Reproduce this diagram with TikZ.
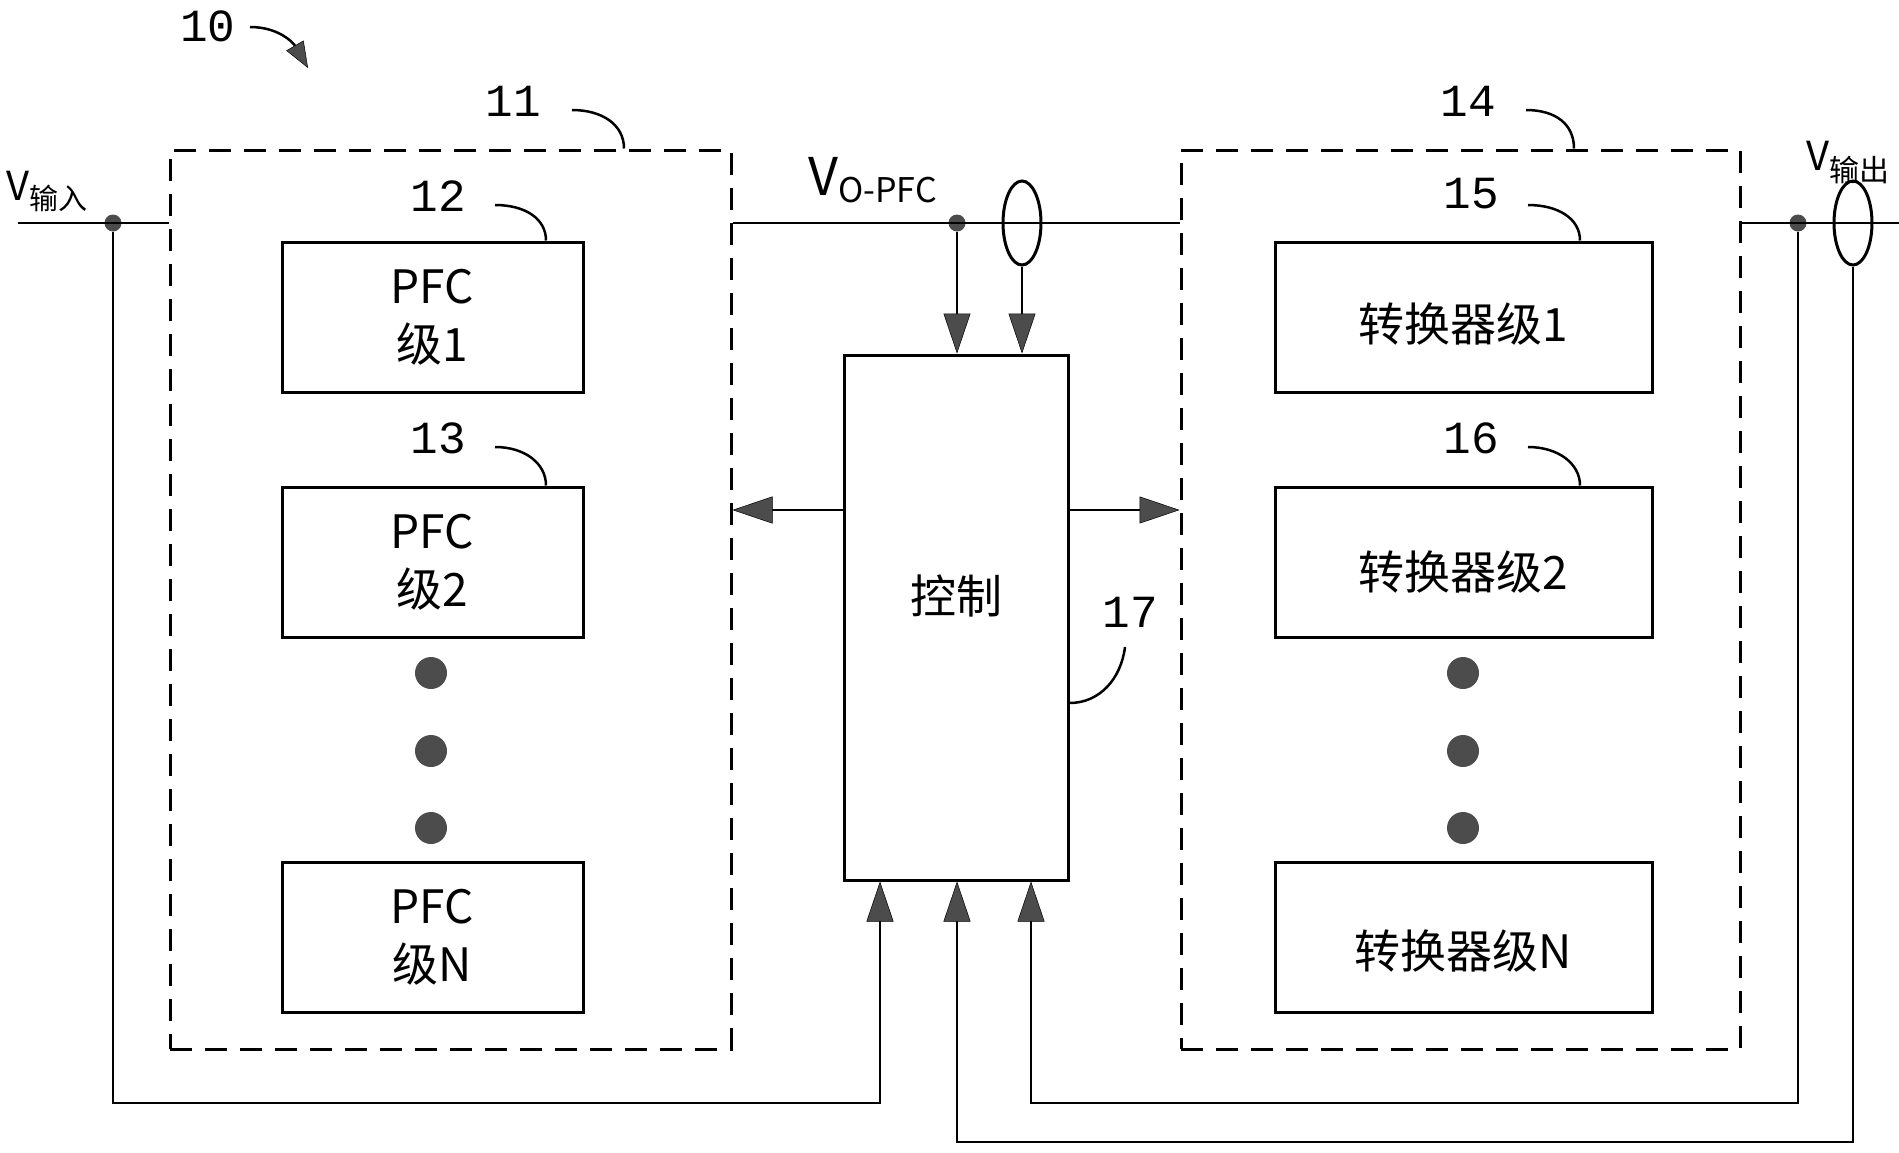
\documentclass[tikz,border=0pt]{standalone}
\usepackage{fontspec}
\setmainfont{Noto Sans CJK SC}
\newfontfamily\numfont{Liberation Mono}
\usetikzlibrary{arrows.meta,shapes.geometric}
\begin{document}
\begin{tikzpicture}[x=1pt,y=-1pt,
  wire/.style={line width=2.5pt},
  arr/.style={wire,-{Triangle[length=40pt,width=27pt,fill=black!70,line width=0.5pt]}},
  lead/.style={line width=2.5pt},
  grp/.style={draw,line width=3pt,dash pattern=on 22pt off 13pt,inner sep=0pt,minimum width=#1,minimum height=899pt},
  stagebox/.style={draw,line width=3pt,inner sep=0pt,minimum width=#1,minimum height=150pt,align=center,font=\fontsize{46}{58}\selectfont},
  stagetext/.style={inner sep=0pt,font=\fontsize{46}{58}\selectfont},
  num/.style={inner sep=0pt,font=\numfont\fontsize{46}{46}\selectfont},
  bigdot/.style={circle,fill=black!70,inner sep=0pt,minimum size=32pt},
  jdot/.style={circle,fill=black!70,inner sep=0pt,minimum size=17pt},
  sense/.style={ellipse,draw,line width=3pt,inner sep=0pt,minimum width=38pt,minimum height=84pt}
]
\useasboundingbox (0,0) rectangle (1899,1152);

% group boxes
\node[grp=561pt] (g11) at (450.5,599.5) {};
\node[grp=559pt] (g14) at (1460.5,599.5) {};

% PFC stages
\node[stagebox=301pt] (p1) at (432.5,317) {PFC\\级1};
\node[stagebox=301pt] (p2) at (432.5,562) {PFC\\级2};
\node[stagebox=301pt] (pn) at (432.5,937.5) {PFC\\级N};
\node[bigdot] (pd1) at (431,673) {};
\node[bigdot] (pd2) at (431,751) {};
\node[bigdot] (pd3) at (431,828) {};

% converter stages
\node[stagebox=377pt] (c1) at (1463.5,317) {};
\node[stagebox=377pt] (c2) at (1463.5,562) {};
\node[stagebox=377pt] (cn) at (1463.5,937.5) {};
\node[stagetext] (c1t) at (1463.5,324) {转换器级1};
\node[stagetext] (c2t) at (1463.5,572) {转换器级2};
\node[stagetext] (cnt) at (1463.5,951) {转换器级N};
\node[bigdot] (cd1) at (1463,673) {};
\node[bigdot] (cd2) at (1463,751) {};
\node[bigdot] (cd3) at (1463,828) {};

% control
\node[draw,line width=3pt,inner sep=0pt,minimum width=224pt,minimum height=525pt] (ctrl) at (956,617.5) {};
\node[stagetext] (ctrlt) at (956,596) {控制};

% main line
\coordinate (vinL) at (18,223);
\node[jdot] (jin) at (113,223) {};
\node[jdot] (jo) at (957,223) {};
\node[jdot] (jout) at (1798,223) {};
\coordinate (voutR) at (1899,223);
\draw[wire] (vinL) -- (g11.west |- vinL);
\draw[wire] (g11.east |- vinL) -- (g14.west |- vinL);
\draw[wire] (g14.east |- vinL) -- (voutR);
\node[sense] (e1) at (1022,223) {};
\node[sense] (e2) at (1853,223) {};

% labels of voltages
\node[anchor=base west,inner sep=0pt] (vin) at (6,200) {\fontsize{40}{40}\selectfont V\fontsize{29}{29}\selectfont\raisebox{-9pt}{输入}};
\node[anchor=base west,inner sep=0pt] (vopfc) at (808,195) {\fontsize{52}{52}\selectfont V\fontsize{34}{34}\selectfont\raisebox{-7pt}{O-PFC}};
\node[anchor=base west,inner sep=0pt] (vout) at (1806,170) {\fontsize{40}{40}\selectfont V\fontsize{30}{30}\selectfont\raisebox{-11pt}{输出}};

% arrows into control (top)
\draw[arr] (jo) -- (jo |- ctrl.north);
\draw[arr] (e1.south) -- (e1.south |- ctrl.north);

% control outputs
\coordinate (hy) at (0,510);
\draw[arr] (ctrl.west |- hy) -- (g11.east |- hy);
\draw[arr] (ctrl.east |- hy) -- (g14.west |- hy);

% feedback lines
\coordinate (fb1) at (0,1103);
\coordinate (fb2) at (0,1142);
\coordinate (xa) at (880,0);
\coordinate (xb) at (957,0);
\coordinate (xc) at (1031,0);
\draw[arr] (jin) -- (jin |- fb1) -- (xa |- fb1) -- (xa |- ctrl.south);
\draw[arr] (jout) -- (jout |- fb1) -- (xc |- fb1) -- (xc |- ctrl.south);
\draw[arr] (e2.south) -- (e2.south |- fb2) -- (xb |- fb2) -- (xb |- ctrl.south);

% reference numerals
\node[num] (n10) at (208,26) {10};
\node[num] (n11) at (513,101) {11};
\node[num] (n12) at (438,196) {12};
\node[num] (n13) at (438,438) {13};
\node[num] (n14) at (1468,101) {14};
\node[num] (n15) at (1471,194) {15};
\node[num] (n16) at (1471,438) {16};
\node[num] (n17) at (1130,612) {17};

\coordinate (s10) at (250,27);
\coordinate (t10) at (308,68);
\draw[lead,-{Triangle[length=26pt,width=20pt,fill=black!70,line width=0.5pt]}] (s10) .. controls +(30,0) and +(-14,-24) .. (t10);

\coordinate (s11) at (572,110);
\draw[lead] (s11) .. controls +(30,0) and +(0,-24) .. (g11.north -| 624,0);
\coordinate (s12) at (495,205);
\draw[lead] (s12) .. controls +(30,0) and +(0,-22) .. (p1.north -| 546,0);
\coordinate (s13) at (495,447);
\draw[lead] (s13) .. controls +(30,0) and +(0,-22) .. (p2.north -| 546,0);
\coordinate (s14) at (1526,110);
\draw[lead] (s14) .. controls +(30,0) and +(0,-24) .. (g14.north -| 1574,0);
\coordinate (s15) at (1528,205);
\draw[lead] (s15) .. controls +(30,0) and +(0,-22) .. (c1.north -| 1580,0);
\coordinate (s16) at (1528,447);
\draw[lead] (s16) .. controls +(30,0) and +(0,-22) .. (c2.north -| 1580,0);
\coordinate (s17) at (1125,647);
\draw[lead] (s17) .. controls +(-4,32) and +(30,0) .. (ctrl.east |- 0,703);
\end{tikzpicture}
\end{document}
